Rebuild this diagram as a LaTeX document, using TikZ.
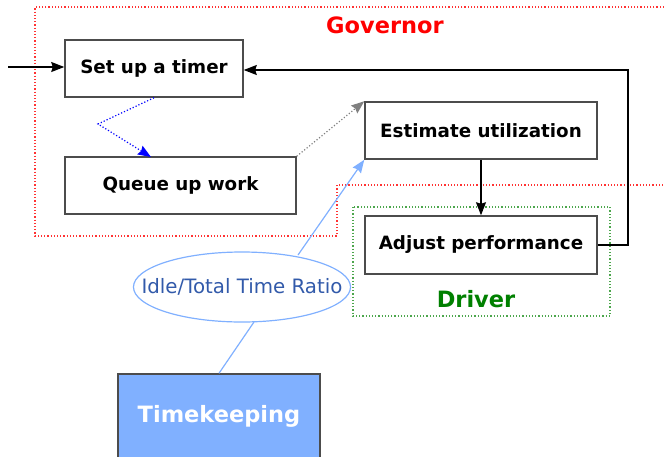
\documentclass[tikz,border=0pt]{standalone}
\usepackage{fontspec}
\setmainfont{DejaVu Sans}
\usetikzlibrary{arrows.meta,shapes.geometric}
\definecolor{govred}{RGB}{255,0,0}
\definecolor{drvgreen}{RGB}{0,128,0}
\definecolor{tkblue}{RGB}{128,176,255}
\definecolor{ratioblue}{RGB}{50,90,170}
\tikzset{
    stepbox/.style={shape=rectangle, draw=black!70, line width=1.5pt, fill=white,
        font=\fontsize{18.3}{21}\selectfont\bfseries},
    flowarrow/.style={line width=1.2pt, -{Stealth[length=13pt,width=10pt,inset=1.5pt]}}
}
\begin{document}
\begin{tikzpicture}[x=1pt, y=-1pt]
    \useasboundingbox (0,0) rectangle (664,456);

    \draw[govred!80, line width=1.2pt, dotted] (664,7) -- (35,7) -- (35,236) -- (337,236) -- (337,185) -- (664,185);
    \node (gov) at (385,25) [text=govred, font=\fontsize{22.5}{26}\selectfont\bfseries] {Governor};
    \draw[drvgreen!70, line width=1.2pt, dotted] (353,207) rectangle (610,316);

    \node (setup) at (154,68.5) [stepbox, minimum width=178pt, minimum height=57pt] {Set up a timer};
    \node (queue) at (180.5,185.5) [stepbox, minimum width=231pt, minimum height=57pt] {Queue up work};
    \node (est) at (481,130.5) [stepbox, minimum width=232pt, minimum height=57pt] {Estimate utilization};
    \node (adj) at (481,245) [stepbox, minimum width=232pt, minimum height=58pt] {Adjust performance};
    \node (drv) at (476,299) [text=drvgreen, font=\fontsize{22.5}{26}\selectfont\bfseries] {Driver};

    \node (ratio) at (242,287) [shape=ellipse, draw=tkblue, line width=1.2pt, inner xsep=-23.7pt, inner ysep=0pt,
        minimum height=70pt, text=ratioblue, font=\fontsize{19.8}{23}\selectfont] {Idle/Total Time Ratio};
    \node (tk) at (219,416) [shape=rectangle, draw=black!70, line width=1.5pt, fill=tkblue, minimum width=202pt, minimum height=84pt,
        text=white, font=\fontsize{22.5}{26}\selectfont\bfseries] {Timekeeping};

    \coordinate (in) at (8,67);
    \coordinate (loop) at (628,70);

    \draw[flowarrow] (in) -- (in -| setup.west);
    \draw[flowarrow] (adj.east) -| (loop) -- (loop -| setup.east);
    \draw[flowarrow] (est.south) -- (adj.north);
    \draw[flowarrow, blue, dotted] (setup.south) -- (98,124) -- (151,157);
    \draw[flowarrow, black!50, dotted] (queue.north east) -- (est.north west);
    \draw[flowarrow, tkblue] (298,255) -- (est.south west);
    \draw[tkblue, line width=1.2pt] (254,322) -- (tk.north);
\end{tikzpicture}
\end{document}
